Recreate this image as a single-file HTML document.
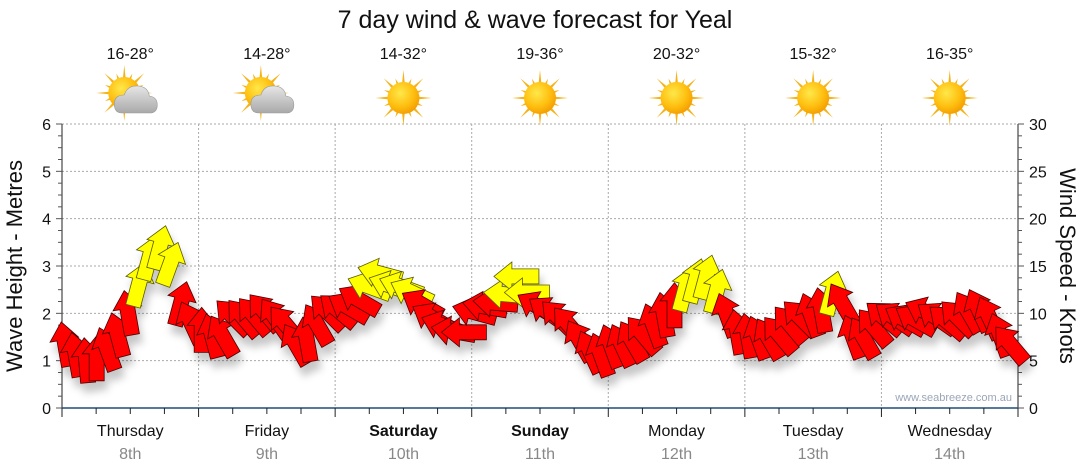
<!DOCTYPE html>
<html><head><meta charset="utf-8">
<style>
html,body{margin:0;padding:0;background:#fff;}
svg{display:block;font-family:"Liberation Sans","DejaVu Sans",sans-serif;}
</style></head>
<body>
<svg id="chart" width="1080" height="475" viewBox="0 0 1080 475" xmlns="http://www.w3.org/2000/svg">
<defs>
<filter id="shadow" x="-50%" y="-50%" width="200%" height="200%">
<feDropShadow dx="3" dy="9" stdDeviation="4" flood-color="#000" flood-opacity="0.22"/>
</filter>
<radialGradient id="sunGrad" cx="0.4" cy="0.35" r="0.7">
<stop offset="0" stop-color="#ffe84a"/><stop offset="0.6" stop-color="#ffbf10"/><stop offset="1" stop-color="#f29a00"/>
</radialGradient>
<linearGradient id="cloudGrad" x1="0" y1="0" x2="0" y2="1">
<stop offset="0" stop-color="#e6e6e6"/><stop offset="1" stop-color="#a9a9a9"/>
</linearGradient>
</defs>
<text x="535" y="28" text-anchor="middle" font-size="25" fill="#111">7 day wind &amp; wave forecast for Yeal</text>
<g id="grid"></g>
<g id="axes"></g>
<g id="icons"></g>
<g id="arrows" filter="url(#shadow)"></g>
<text x="1012" y="401" text-anchor="end" font-size="11" fill="#9aa6b8">www.seabreeze.com.au</text>
<text transform="translate(22,266) rotate(-90)" text-anchor="middle" font-size="22" fill="#111">Wave Height - Metres</text>
<text transform="translate(1060,266) rotate(90)" text-anchor="middle" font-size="22" fill="#111">Wind Speed - Knots</text>
</svg>
<script>
const dayNames = ["Thursday","Friday","Saturday","Sunday","Monday","Tuesday","Wednesday"];
const dayDates = ["8th","9th","10th","11th","12th","13th","14th"];
const boldDays = [false,false,true,true,false,false,false];
const temps = ["16-28°","14-28°","14-32°","19-36°","20-32°","15-32°","16-35°"];
const cloudy = [true,true,false,false,false,false,false];
const waveTicks = [0,1,2,3,4,5,6];
const windTicks = [0,5,10,15,20,25,30];
const windSpeed = [
6.7,5.6,5.0,5.2,6.2,7.7,10.0,13.0,15.8,16.9,15.2,11.0,9.0,
8.2,7.6,7.6,9.6,9.5,9.7,10.1,9.5,8.8,6.7,7.2,8.8,10.1,
10.3,10.6,11.4,12.8,14.2,12.9,12.8,12.2,10.9,9.5,8.7,8.1,8.0,
10.1,10.7,11.1,12.0,13.9,12.2,10.7,10.1,9.5,8.7,7.1,5.9,5.6,
6.5,6.6,7.0,7.7,8.7,9.8,10.8,12.5,13.4,13.8,12.3,9.8,8.0,
7.6,7.4,7.3,7.7,8.8,9.5,9.8,10.3,12.1,11.0,7.5,7.4,8.5,
9.5,9.5,9.3,9.3,10.1,9.5,9.1,9.5,10.1,10.3,9.5,7.7,6.7];
const windDir = [
-10,-10,-5,0,-20,-15,-10,15,15,15,20,15,-25,
0,-15,-30,-45,-40,-40,-40,-35,-40,-30,-10,-30,-45,
-50,-60,-60,-70,-75,-70,-70,-65,-60,-60,-70,-80,-90,
-75,-80,-85,-85,-90,-90,-60,-55,-45,-40,-30,-25,-20,
-20,-25,-30,-40,-20,-10,0,15,15,15,15,-20,-10,
-10,-20,-30,-40,-40,-45,-20,-10,15,-30,-20,-30,-40,
-50,-55,-60,-60,-65,-55,-50,-45,-30,-25,-25,-20,-40];
const pointsPerDay = 13;

const NS="http://www.w3.org/2000/svg";
const L=62,R=1018,T=124,B=408,DW=(R-L)/7;
const xDay=d=>L+d*DW;
const yWave=m=>B-(m/6)*(B-T);
const yWind=k=>B-(k/30)*(B-T);
function mk(tag,attrs,parent){const e=document.createElementNS(NS,tag);for(const k in attrs)e.setAttribute(k,attrs[k]);parent.appendChild(e);return e;}
const grid=document.getElementById('grid'),axes=document.getElementById('axes'),icons=document.getElementById('icons'),arrows=document.getElementById('arrows');

waveTicks.forEach(m=>{if(m===0)return;const g=mk('line',{x1:L,x2:R,y1:yWave(m),y2:yWave(m),stroke:'#aaa','stroke-dasharray':'2,2','stroke-width':1},grid);

});
for(let d=1;d<7;d++){const g=mk('line',{x1:xDay(d),x2:xDay(d),y1:T,y2:B,stroke:'#aaa','stroke-dasharray':'2,2','stroke-width':1},grid);

}

let a=mk('line',{x1:L,x2:L,y1:T,y2:B,stroke:'#222'},axes);


a=mk('line',{x1:R,x2:R,y1:T,y2:B,stroke:'#222'},axes);


a=mk('line',{x1:L,x2:R,y1:B,y2:B,stroke:'#1f4f7a','stroke-width':1.5},axes);


for(let i=0;i<=24;i++){const y=yWave(i/4);mk('line',{x1:L-(i%4===0?6:4),x2:L,y1:y,y2:y,stroke:'#555'},axes);
const y2=yWind(i*30/24);mk('line',{x1:R,x2:R+(i%4===0?6:4),y1:y2,y2:y2,stroke:'#555'},axes);}
waveTicks.forEach(m=>{const t=mk('text',{x:L-11,y:yWave(m)+6,'text-anchor':'end','font-size':16,fill:'#111'},axes);t.textContent=m;

});
windTicks.forEach(k=>{const t=mk('text',{x:R+11,y:yWind(k)+6,'text-anchor':'start','font-size':16,fill:'#111'},axes);t.textContent=k;

});
for(let q=0;q<=28;q++){const x=xDay(q/4);mk('line',{x1:x,x2:x,y1:B,y2:B+(q%4===0?9:6),stroke:'#222'},axes);}

dayNames.forEach((n,d)=>{const cx=xDay(d+0.5);
let t=mk('text',{x:cx,y:436,'text-anchor':'middle','font-size':16,fill:'#111','font-weight':boldDays[d]?'bold':'normal'},axes);t.textContent=n;


t=mk('text',{x:cx,y:459,'text-anchor':'middle','font-size':16,fill:'#888'},axes);t.textContent=dayDates[d];


t=mk('text',{x:cx,y:59,'text-anchor':'middle','font-size':16,fill:'#111'},icons);t.textContent=temps[d];


const g=mk('g',{transform:`translate(${cx},${98})`},icons);


const sx=cloudy[d]?-6:0,sy=cloudy[d]?-5:0;
for(let r=0;r<16;r++){const ang=r*Math.PI/8,len=r%2===0?28:21;
mk('polygon',{points:`${sx+Math.cos(ang-0.12)*13},${sy+Math.sin(ang-0.12)*13} ${sx+Math.cos(ang)*len},${sy+Math.sin(ang)*len} ${sx+Math.cos(ang+0.12)*13},${sy+Math.sin(ang+0.12)*13}`,fill:'#f4b319'},g);}
mk('circle',{cx:sx,cy:sy,r:16,fill:'url(#sunGrad)'},g);
if(cloudy[d]){mk('path',{d:'M-8,15 Q-16,15 -16,6 Q-16,-3 -6,-3 Q-3,-13 8,-12 Q18,-11 19,-2 Q27,-1 27,7 Q27,15 19,15 Z',fill:'url(#cloudGrad)',stroke:'#999','stroke-width':0.6},g);}
});

windSpeed.forEach((k,i)=>{const day=(i+0.3)/pointsPerDay;const x=xDay(day),y=yWind(k);
const p=mk('polygon',{points:'0,-23 14.5,-5 7.5,-5 7.5,22 -7.5,22 -7.5,-5 -14.5,-5',transform:`translate(${x.toFixed(1)},${y.toFixed(1)}) rotate(${windDir[i]})`,fill:k>=12?'#ffff00':'#ff0000',stroke:k>=12?'#5a5a00':'#4a0000','stroke-width':0.8,'stroke-linejoin':'miter'},arrows);

});
</script>
</body></html>
